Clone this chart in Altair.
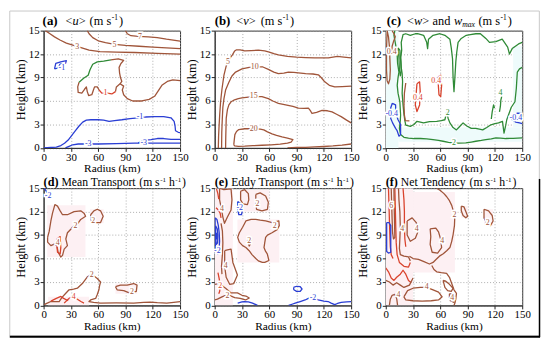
import altair as alt
import pandas as pd

SERIF = "'Liberation Serif', 'Times New Roman', 'DejaVu Serif', serif"
BROWN = "#a0553a"
RED = "#d9432d"
BLUE = "#2a3ed4"
GREEN = "#2f8a36"
PINK = "#fdf0f3"
CYAN = "#eefbfb"

R_TICKS = [0, 30, 60, 90, 120, 150]
Z_TICKS = [0, 3, 6, 9, 12, 15]

# ---------------- panel (a) <u> ----------------
A_U7 = [[90, 15], [92, 14.6], [96, 14.35], [104, 14.25], [115, 14.2], [125, 14.1], [135, 13.9], [150, 13.65]]
A_U5 = [[48, 15], [50, 14.6], [54, 14.1], [60, 13.7], [68, 13.45], [78, 13.25], [90, 13.1], [105, 13.0],
        [120, 12.9], [135, 12.8], [150, 12.7]]
A_U3 = [[2, 15], [7, 14.6], [12, 14.2], [18, 13.8], [25, 13.4], [33, 13.1], [42, 12.8], [50, 12.5], [62, 12.3],
        [80, 12.25], [100, 12.2], [125, 12.1], [150, 12.0]]
A_U1_BROWN = [[150, 8.6], [142, 8.7], [136, 8.5], [130, 8.0], [126, 7.3], [122, 6.6], [116, 6.2], [108, 6.0],
              [98, 6.0], [92, 6.3], [88, 6.8], [86.5, 7.4], [88, 7.9], [84, 8.2], [80, 7.8], [79, 7.2]]
A_U1_RED = [[79, 7.2], [75, 6.9], [70, 7.0], [64, 7.0], [61, 7.4]]
A_U1_BROWN2 = [[61, 7.4], [59, 7.8], [56, 7.8], [54.5, 7.3], [53, 6.8], [49.5, 6.7], [48, 7.2], [47, 7.8],
               [45, 7.5], [42, 7.0], [38, 7.1], [37.5, 7.8], [39, 8.4]]
A_U1_GREEN = [[39, 8.4], [44, 8.9], [49, 9.3], [51, 10.0], [54, 10.7], [59, 11.0], [66, 11.1], [74, 11.25]]
A_U1_BROWN3 = [[74, 11.25], [82, 11.4], [88, 11.2], [85, 10.8], [83, 10.3], [83.5, 9.6], [84.5, 9.0],
               [86, 8.5], [84, 8.2]]
A_UN1_SMALL = [[12, 10.1], [13.4, 10.8], [18.8, 11.0], [25, 11.15], [24, 10.8], [18, 10.7], [15.5, 10.2], [12, 10.1]]
A_UN1 = [[0, 0], [8, 0.05], [14, 0.1], [19, 0.3], [23, 0.6], [27, 1.0], [31, 1.6], [35, 2.2], [39, 2.8],
         [43, 3.3], [47, 3.55], [52, 3.6], [60, 3.6], [66, 3.55], [72, 3.4], [78, 3.5], [86, 3.6], [95, 3.75],
         [104, 3.85], [112, 3.95], [122, 4.0], [132, 4.0], [140, 3.85], [143.5, 3.4], [144.5, 2.8], [145, 2.2],
         [148, 2.0], [150, 1.95]]
A_UN3 = [[24, 0], [28, 0.2], [32, 0.4], [38, 0.5], [48, 0.5], [60, 0.5], [80, 0.55], [100, 0.6], [120, 0.6],
         [135, 0.6], [150, 0.6]]
A_UN3B = [[104, 0.65], [110, 0.95], [118, 1.05], [125, 1.2], [132, 1.2], [140, 1.1], [150, 1.1]]
A_LABELS = [[106, 14.2, "7", BROWN], [78, 13.2, "5", BROWN], [37, 12.95, "3", BROWN], [68, 7.0, "1", RED],
            [20, 10.2, "-1", BLUE], [106, 3.9, "-1", BLUE], [49, 0.5, "-3", BLUE], [110, 0.6, "-3", BLUE]]

# ---------------- panel (b) <v> ----------------
B_V5 = [[4, 0], [4.3, 1.5], [4.7, 2.5], [5.5, 4.2], [6.5, 5.9], [8, 7.5], [10.2, 9.3], [12.5, 10.4], [14.5, 11.0],
        [17, 11.5], [19.5, 11.9], [22, 12.4], [24, 12.55], [28, 12.55], [33, 12.4], [40, 12.45], [48, 12.5],
        [55, 12.4], [60, 12.25], [65, 12.05], [70, 11.9], [80, 11.7], [90, 11.6], [100, 11.55], [110, 11.5],
        [125, 11.5], [135, 11.7], [142, 11.6], [150, 11.5]]
B_V10 = [[7.6, 0], [7.8, 2], [8.4, 3.8], [9, 5.2], [10.2, 6.3], [12, 7.4], [15.6, 8.4], [19, 9.2], [23, 9.7],
         [30, 10.1], [38, 10.3], [46, 10.35], [53, 10.35], [59, 10.05], [65, 9.7], [70, 9.5], [76, 9.55],
         [81, 9.7], [87, 9.65], [92, 9.6], [100, 9.5], [108, 9.45], [114, 9.35], [117, 9.0], [121, 8.45],
         [126, 8.0], [132, 7.8], [140, 7.85], [150, 7.9]]
B_V15 = [[12, 0], [12.2, 1.5], [12.7, 3.8], [14, 4.9], [15.6, 5.5], [18, 5.9], [21, 6.1], [26, 6.3], [30, 6.4],
         [37, 6.5], [44, 6.55], [52, 6.55], [59, 6.3], [64, 6.0], [70, 5.7], [78, 5.5], [86, 5.3], [92, 5.1],
         [98, 5.05], [103, 5.1], [105, 4.8], [107, 4.4], [112, 4.55], [118, 4.8], [124, 4.75], [129, 4.6],
         [134, 4.3], [139, 4.0], [145, 3.55], [150, 3.2]]
B_V20 = [[21, 0.4], [21.5, 1.0], [22.2, 1.7], [24, 2.1], [26.5, 2.35], [33, 2.45], [42, 2.45], [50, 2.4],
         [54, 2.3], [58, 2.05], [63, 1.8], [68, 1.6], [74, 1.4], [80, 1.25], [86, 1.05], [84, 0.75], [80, 0.6],
         [72, 0.48], [62, 0.4], [52, 0.34], [42, 0.28], [33, 0.22], [26, 0.2], [22, 0.25], [21, 0.4]]
B_V5_LOW = [[80, 0], [90, 0.05], [100, 0.08], [110, 0.12], [120, 0.18], [130, 0.25], [140, 0.35], [150, 0.5]]
B_LABELS = [[14.5, 11.0, "5", BROWN], [44, 10.3, "10", BROWN], [43, 6.6, "15", BROWN], [43, 2.45, "20", BROWN]]

# ---------------- panel (c) <w> and wmax ----------------
C_OUTER = [[150, 1.27], [140, 1.22], [132, 1.2], [126, 1.25], [121, 1.27], [116, 1.15], [110, 1.05],
           [105, 0.95], [99, 0.85], [94, 0.75], [88, 0.63], [80, 0.6], [74, 0.63], [69, 0.72], [63, 0.85],
           [58, 0.95], [52, 1.05], [45, 1.15], [38, 1.2], [31, 1.2], [25, 1.25], [20, 1.35], [16.3, 1.7],
           [15, 2.5], [16, 3.5], [16.3, 4.2], [15.5, 5.9], [13.5, 7.0], [12.6, 8.0], [13.5, 9.0], [14.5, 9.7],
           [13, 10.8], [12.6, 11.8], [11, 13.1], [9, 14.4], [10, 15]]
C_BOX = [[150, 13.5], [146, 13.3], [139, 12.7], [136, 12.0], [134, 12.9], [128, 13.9], [121, 13.6], [114, 13.5],
         [110, 14.0], [104, 14.6], [99, 14.6], [93, 14.5], [88.5, 14.4], [83, 14.0], [79.5, 13.5], [78, 12.2],
         [77, 11.0], [76, 9.0], [75, 7.2], [74, 9.0], [73.4, 11.4], [72, 12.8], [70.5, 13.9], [65, 14.4],
         [59.6, 14.6], [52, 14.4], [47, 13.9], [46, 12.7], [45, 13.5], [41.6, 14.4], [35, 14.6], [32.5, 14.6],
         [27, 14.4], [22, 14.6], [19, 14.5], [17, 13.5], [17.5, 12.5], [16.5, 11.5], [17, 10.3], [18, 9.5],
         [18.5, 8.5], [18, 7.0], [19, 5.5], [20, 4.3], [21, 3.5], [22, 2.9], [27, 2.75], [31, 3.0], [34.3, 3.4],
         [38, 3.3], [41.6, 3.2], [48, 3.35], [56, 3.4], [61, 3.5], [65, 3.6], [67, 4.6], [68.5, 3.8], [70.5, 3.2],
         [74, 2.6], [77.7, 2.3], [81, 2.7], [85, 3.2], [89, 2.8], [94, 2.5], [99, 2.5], [106.6, 2.3], [111, 2.6],
         [115.6, 2.95], [120, 3.1], [124, 3.2], [128.3, 3.4], [130, 1.9], [131.9, 2.9], [133, 3.6], [135.5, 4.4],
         [138, 5.2], [142, 5.9], [143.5, 7.6], [144.6, 9.7], [147, 10.1], [150, 10.3]]
C_G_SMALL1 = [[125, 4.6], [126, 5.3], [126.5, 6.1], [127.5, 6.6]]
C_G_SMALL2 = [[116, 3.7], [117, 4.6], [118.5, 5.5], [119.5, 5.1]]
C_G_LOOP = [[13.5, 12.8], [14.5, 11.5], [15, 10.0], [16, 9.2], [17, 9.8], [16.5, 11.0], [15.5, 12.5], [13.5, 12.8]]
C_BR1 = [[1.5, 15], [3, 14.2], [4, 13.0], [4.5, 11.5], [5, 10.0], [4.5, 8.8], [3, 8.2], [1.5, 8.6], [0.8, 10],
         [0.8, 12.5], [1.5, 15]]
C_BR2 = [[7, 15], [9, 14.6], [10.5, 14.2], [8.5, 13.6], [7, 13.0], [6.5, 12]]
C_BR3 = [[22, 8.3], [20.5, 7.0], [20, 5.5], [20.5, 4.2], [21.5, 3.5], [26, 3.45]]
C_RED1 = [[34.3, 8.2], [37.2, 8.45], [37.9, 7.2], [37.2, 5.5], [34.3, 4.65], [32.5, 5.5], [33.6, 7.2], [34.3, 8.2]]
C_RED2 = [[57.8, 9.1], [60.4, 9.3], [61.4, 8.0], [60.4, 6.55], [58.5, 6.8], [57.8, 8.0], [57.8, 9.1]]
C_BLUE1 = [[7.2, 5.7], [10.8, 5.5], [11, 4.5], [13.5, 3.6], [16.3, 3.0], [16.3, 1.7], [14.5, 1.5], [12.5, 2.2],
           [10.8, 2.5], [7.5, 3.2], [5.4, 3.8], [5.4, 5.1], [7.2, 5.7]]
C_BLUE2 = [[150, 4.4], [145, 4.45], [141, 4.3], [138, 4.0], [139, 3.6], [143, 3.3], [147, 3.2], [150, 3.1]]
C_LABELS = [[75, 0.62, "2", GREEN], [68, 4.4, "2", GREEN], [126, 7.0, "4", GREEN], [6.5, 12.3, "0.4", BROWN],
            [35.3, 6.4, "0.4", RED], [55.5, 8.6, "0.4", RED], [6.5, 4.3, "-0.4", BLUE], [143, 3.8, "-0.4", BLUE]]

# ---------------- panel (d) mean transport ----------------
D_UP2 = [[4.4, 8.7], [6.2, 9.5], [8, 10.8], [9.8, 11.8], [12.4, 12.9], [15.3, 12.7], [18.2, 12.1], [20.8, 11.6],
         [26.2, 11.6], [33.5, 12.0], [40.8, 12.1], [44.4, 11.8], [46.2, 11.4], [40.8, 11.0], [37.1, 10.4],
         [31.7, 10.0], [29.9, 9.75], [26.2, 9.3], [24.4, 8.5], [26.2, 7.65], [22.6, 7.2], [20.8, 6.4],
         [18.9, 6.2], [16, 6.8], [14.6, 7.65], [11.7, 7.85], [8, 7.65], [4.4, 8.1], [4.4, 8.7]]
D_UP4 = [[14.6, 8.5], [18.2, 8.8], [18.9, 7.4], [18.2, 6.6], [15.3, 6.8], [14.6, 7.65], [14.6, 8.5]]
D_SMALL2 = [[51.7, 11.6], [55.3, 12.1], [59, 12.3], [62.6, 12.1], [65.5, 11.4], [62.6, 10.6], [55.3, 10.6],
            [51.7, 11.0], [51.7, 11.6]]
D_LOW2 = [[0.7, 0.1], [4, 0.3], [8, 0.5], [12, 0.5], [17.1, 0.5], [20, 1.0], [24.4, 1.55], [28, 2.0], [33, 2.1],
          [37.1, 2.2], [42.6, 2.8], [48.1, 3.65], [51.7, 3.9], [55, 3.8], [59, 3.45], [62.6, 3.0], [61.5, 2.5],
          [60.8, 2.0], [59, 1.4], [57.2, 0.9], [51.7, 0.7], [49.9, 0.5], [55, 0.4], [62.6, 0.3], [80, 0.32],
          [99, 0.3], [110, 0.38], [117.2, 0.42], [125, 0.35], [135.4, 0.3], [143, 0.4], [150, 0.5]]
D_LOW4 = [[22.6, 0.3], [26, 0.7], [28, 0.9], [31.7, 1.1], [34, 0.95], [37.1, 0.8], [41, 0.5], [44.4, 0.3]]
D_LOOP2 = [[79, 2.4], [84.5, 2.6], [91.8, 2.6], [99, 2.8], [102.7, 2.6], [101.9, 1.8], [95.4, 1.55], [88.1, 1.9],
           [80.8, 2.0], [79, 2.4]]
D_RED = [[8, 0.55], [14, 0.9], [19, 1.15], [22, 0.9], [27, 0.6]]
D_BLUE = [[0.7, 15], [3.6, 14.5], [6, 14.2], [8, 13.95], [5, 13.8]]
D_LABELS = [[35, 10.2, "2", BROWN], [15.5, 8.0, "4", BROWN], [54.5, 10.8, "2", BROWN], [53, 3.9, "2", BROWN],
            [33, 1.1, "4", RED], [97, 1.75, "2", BROWN], [5, 14.0, "-2", BLUE]]

# ---------------- panel (e) eddy transport ----------------
E_B1 = [[30.7, 10.0], [34.3, 10.8], [40, 11.0], [45.2, 11.0], [50, 10.9], [56, 10.8], [63.2, 10.6], [70.5, 10.8],
        [71, 10.2], [68.6, 9.7], [63, 9.3], [58, 9.0], [56, 8.7], [55, 8.0], [54.2, 7.4], [56, 6.9], [57.8, 6.6],
        [59.6, 5.75], [55, 5.5], [52.4, 5.5], [48, 5.7], [45.2, 6.0], [41, 6.5], [37.9, 7.0], [34.3, 7.4],
        [30.7, 7.65], [27.1, 8.1], [25.3, 8.7], [27.1, 9.3], [30.7, 10.0]]
E_B1_IN = [[36, 8.3], [39, 8.6], [40, 8.0], [38, 7.6], [36, 8.3]]
E_B2 = [[28.5, 14.6], [33, 14.8], [37, 14.3], [37.5, 13.5], [36, 12.9], [31, 13.0], [28.5, 13.5], [28.5, 14.6]]
E_B3 = [[45.2, 14.2], [50, 14.4], [56, 14.0], [59, 13.2], [58, 12.3], [52, 12.1], [46, 12.3], [45.2, 13.3],
        [45.2, 14.2]]
E_B4 = [[5.4, 15], [10, 14.8], [18, 14.9], [19, 13.5], [18, 12.2], [14, 11.3], [10.8, 10.5], [9, 11.3], [7, 12.6],
        [5.4, 13.5], [5.4, 15]]
E_B5 = [[11, 7.0], [14, 7.1], [18, 7.2], [20, 5.5], [25, 3.9], [21, 2.8], [16.5, 2.7], [12.6, 3.6], [11, 5.0],
        [11, 7.0]]
E_B6 = [[0, 2.7], [5, 2.8], [12, 2.2], [18, 1.6], [25, 1.6], [30, 1.3], [34.3, 1.2], [38, 0.95], [34, 0.7],
        [28, 0.9], [22, 1.0], [14, 1.4], [8, 1.1], [3, 0.8], [0, 0.7]]
E_B7 = [[7, 10.5], [8.5, 9.5], [9, 8.0], [8.5, 6.5], [7.5, 5.0], [8, 4.0]]
E_R1 = [[1.5, 12.5], [4, 12.2], [6, 11.8], [7, 11.2]]
E_R2 = [[3.6, 4.2], [5, 3.4], [6, 2.5], [5.5, 1.8], [4.5, 1.5]]
E_R3 = [[2, 14.9], [3.5, 14.3], [4.5, 13.6]]
E_U1 = [[0.5, 11.2], [2.5, 11.0], [4, 10.2], [5, 9.3], [5.4, 8.2], [4.8, 7.2], [3.5, 6.6], [1.5, 6.9], [0.7, 7.8],
        [0.5, 9.5], [0.5, 11.2]]
E_U2 = [[1, 10.2], [2.8, 9.8], [3.6, 9.0], [3.2, 8.0], [1.8, 7.8], [1, 8.8], [1, 10.2]]
E_U3 = [[1.8, 9.3], [2.8, 9.1], [2.6, 8.5], [1.8, 8.5], [1.8, 9.3]]
E_U4 = [[25.3, 13.3], [29, 13.0], [30.7, 12.3], [29.5, 11.6], [26.5, 11.6], [25.3, 12.3], [25.3, 13.3]]
E_U5 = [[25.3, 0.3], [30, 0.45], [32.5, 0.5], [37, 0.45], [41.6, 0.3], [47, 0]]
E_U6 = [[81.3, 0], [85, 0.15], [88.5, 0.3], [94, 0.5], [99.4, 0.7], [103, 0.9], [106.6, 1.1], [110, 0.9],
        [113.8, 0.7], [120, 0.55], [124.7, 0.5], [128, 0.3], [131.9, 0.1], [135, 0.25], [139.1, 0.4],
        [145, 0.45], [150, 0.5]]
E_U7 = [[86.7, 2.3], [90, 2.45], [94, 2.4], [96, 2.1], [94, 1.8], [90, 1.8], [87, 2.0], [86.7, 2.3]]
E_LABELS = [[66, 10.1, "2", BROWN], [38, 8.2, "2", BROWN], [47, 13.0, "2", BROWN], [8, 12.3, "4", BROWN],
            [12, 5.0, "4", BROWN], [14, 1.2, "2", BROWN], [6, 2.5, "2", RED], [3, 7.0, "-2", BLUE],
            [27.5, 12.4, "-2", BLUE], [108, 1.0, "-2", BLUE]]

# ---------------- panel (f) net tendency ----------------
F_BIG = [[56, 15], [60, 14.7], [64, 14.3], [67, 13.9], [70, 13.4], [72.5, 12.8], [74.5, 12.0], [75.8, 11.1],
         [75.5, 10.2], [74.1, 9.1], [72.5, 8.2], [70.5, 7.4], [67, 7.0], [63.2, 6.6], [59, 6.3], [55.5, 5.9],
         [52, 5.5], [48, 5.3], [42, 5.6], [36, 5.9], [30, 6.0], [26, 6.3]]
F_BIG2 = [[50.6, 5.1], [53, 4.6], [56, 4.3], [61, 4.2], [66.9, 4.1], [70, 3.6], [72.5, 2.8], [75, 2.0],
          [77.7, 1.55], [77, 0.8], [76, 0.3], [75, 0]]
F_LOOP_A = [[48.8, 9.8], [55, 9.9], [58, 9.4], [60.5, 8.4], [61.4, 7.4], [57, 6.7], [51, 6.8], [48.8, 7.8],
            [49.5, 8.8], [48.8, 9.8]]
F_LOOP_B = [[23.5, 10.8], [29, 11.2], [33.5, 10.6], [36, 9.6], [32.5, 8.6], [27, 8.2], [23.5, 9.0], [23.5, 10.8]]
F_R1 = [[3, 15], [3.5, 13], [4, 11], [4.5, 9], [5, 7.5], [6, 6.5], [8, 6.0]]
F_R2 = [[10, 15], [10.5, 12.5], [11, 10], [11.5, 8], [12.5, 6.5], [15, 5.5], [20, 5.0], [25, 4.9], [27, 5.5]]
F_B1 = [[6, 15], [6.5, 13], [7, 11], [7.5, 9.3], [8.5, 8.5], [10, 8.7], [9.6, 11], [9.2, 13], [9, 15]]
F_B2 = [[14, 15], [14.5, 13.5], [15.5, 12], [16, 10], [15.5, 8.5], [15, 7.3], [16, 6.5], [20, 6.3], [25, 6.2],
        [27, 5.7]]
F_B3 = [[19, 15], [20, 13.5], [20.5, 12], [20.5, 10], [21, 8.5], [22, 7.5]]
F_R3 = [[0, 4.8], [3, 4.3], [6, 3.5], [9, 3.2], [12, 3.6], [16, 4.0], [19, 4.5], [22, 4.0], [25, 3.2], [28, 2.9]]
F_B4 = [[0, 3.2], [4, 3.0], [8, 2.6], [12, 2.9], [16, 2.6], [20, 2.3], [26, 2.6], [30, 3.5]]
F_BLUE = [[1, 10.6], [3.5, 10.6], [5.5, 10.2], [5.5, 8.0], [5.5, 6.8], [3, 6.7], [1, 6.9], [1, 8.5], [1, 10.6]]
F_TR1 = [[83, 12.7], [86, 12.6], [88, 12.0], [90, 11.4], [88, 11.2], [85, 11.5], [83, 12.1], [83, 12.7]]
F_TR2 = [[108, 12.3], [113, 12.1], [117, 11.5], [118, 10.8], [115, 10.2], [111, 10.5], [108, 11.2], [108, 12.3]]
F_LOOP_C = [[63, 3.2], [66, 3.1], [70, 2.7], [74, 2.2], [72, 1.8], [68, 1.9], [65, 2.3], [63, 3.2]]
F_LOOP_D = [[70, 1.5], [74, 1.4], [76, 0.8], [75, 0.4], [71, 0.6], [70, 1.0], [70, 1.5]]
F_BOT4 = [[19.9, 1.1], [24, 1.9], [30, 2.2], [38, 2.3], [45, 2.3], [52, 2.0], [58, 1.7], [62, 1.1], [58, 0.7],
          [50, 0.6], [40, 0.55], [30, 0.6], [22, 0.7], [19.9, 1.1]]
F_BOTL = [[4, 0], [5, 0.8], [7, 1.3], [10, 1.4], [12, 0.9], [13, 0]]
F_LABELS = [[6, 12.7, "6", BROWN], [18, 9.8, "4", BROWN], [34, 9.8, "4", BROWN], [62, 8.2, "4", BROWN],
            [75.5, 11.5, "2", BROWN], [112, 10.5, "2", BROWN], [45, 2.3, "4", BROWN], [73, 1.0, "4", BROWN],
            [14, 1.3, "4", BROWN]]

# shaded background regions: r0, r1, z0, z1, colour
A_SHADE = []
B_SHADE = []
C_SHADE = [[0, 14, 0, 15, CYAN], [14, 150, 0.8, 2.6, CYAN], [140, 150, 2.6, 13, CYAN]]
D_SHADE = [[4, 46, 6.2, 12.8, PINK], [51, 66, 10.5, 12.3, PINK], [5, 50, 0, 1.1, PINK], [79, 103, 1.5, 2.8, PINK]]
E_SHADE = [[0, 20, 0, 15, PINK], [25, 71, 5.5, 11.0, PINK], [28, 60, 12, 14.8, PINK]]
F_SHADE = [[0, 30, 0, 15, PINK], [30, 76, 4.2, 14.5, PINK], [83, 90, 11.2, 12.7, PINK], [108, 118, 10.2, 12.3, PINK]]

TITLE_A = [("(a)", "b", -1), ("<", "n", 8), ("u", "i", 0), (">", "n", 0), ("(m s", "n", 4), ("-1", "sup", 0.5), (")", "n", 1)]
TITLE_B = [("(b)", "b", 0), ("<", "n", 6), ("v", "i", 0), (">", "n", 0), ("(m s", "n", 5), ("-1", "sup", 0.5), (")", "n", 1)]
TITLE_C = [("(c)", "b", 1), ("<", "n", 6), ("w", "i", 0), (">", "n", 0), ("and", "n", 3.5), ("w", "i", 3.5),
           ("max", "sub", 0), ("(m s", "n", 3.5), ("-1", "sup", 0.5), (")", "n", 1)]
TITLE_D = [("(d)", "b", 0), ("Mean Transport", "n", 3), ("(m s", "n", 3), ("-1", "sup", 0.5), ("h", "n", 3),
           ("-1", "sup", 0.5), (")", "n", 1)]
TITLE_E = [("(e)", "b", 0), ("Eddy Transport", "n", 3), ("(m s", "n", 3), ("-1", "sup", 0.5), ("h", "n", 3),
           ("-1", "sup", 0.5), (")", "n", 1)]
TITLE_F = [("(f)", "b", 0), ("Net Tendency", "n", 3), ("(m s", "n", 3), ("-1", "sup", 0.5), ("h", "n", 3),
           ("-1", "sup", 0.5), (")", "n", 1)]

# ---------------- helpers ----------------
W_REG = {' ': 250, '(': 333, ')': 333, '<': 564, '>': 564, '-': 333, '1': 500, 'a': 444, 'b': 500, 'c': 444,
         'd': 500, 'e': 444, 'f': 333, 'h': 500, 'm': 778, 'n': 500, 'o': 500, 'p': 500, 'r': 333, 's': 389,
         't': 278, 'u': 500, 'v': 500, 'w': 722, 'x': 500, 'y': 500, 'M': 889, 'T': 611, 'E': 611, 'N': 722,
         'i': 278, 'D': 722, 'g': 500}
W_IT = {'u': 500, 'v': 444, 'w': 667, 'm': 722, 'a': 500, 'x': 444}
W_BD = {'(': 333, ')': 333, 'a': 500, 'b': 556, 'c': 444, 'd': 556, 'e': 444, 'f': 333}

ONE = pd.DataFrame({"v": [0]})
W, H = 138, 118.6

SX = alt.Scale(domain=[0, 150], nice=False, zero=False)
SY = alt.Scale(domain=[0, 15], nice=False, zero=False)
AX = alt.Axis(values=R_TICKS, title="Radius (km)", labelFlush=False, titleFontSize=11.5, titlePadding=0.5,
              labelPadding=0)
AY = alt.Axis(values=Z_TICKS, title="Height (km)", labelFlush=False, titleFontSize=12.5, titlePadding=1,
              labelPadding=1)


def text_width(t, kind, fs):
    tot = 0
    for ch in t:
        if kind == "b":
            tot += W_BD.get(ch, W_REG.get(ch, 500))
        elif kind in ("i", "sub"):
            tot += W_IT.get(ch, W_REG.get(ch, 500))
        else:
            tot += W_REG.get(ch, 500)
    return tot * fs / 1000.0


def title_layers(pieces, y0, size):
    layers = []
    x = 0.0
    for t, kind, gap in pieces:
        x += gap
        fs, weight, style, dy = size, "normal", "normal", 0.0
        if kind == "b":
            weight = "bold"
            fs = size + 0.5
        elif kind == "i":
            style = "italic"
        elif kind == "sup":
            fs = size * 0.6
            dy = -size * 0.38
        elif kind == "sub":
            fs = size * 0.62
            dy = size * 0.22
            style = "italic"
        layers.append(
            alt.Chart(ONE).mark_text(text=t, align="left", baseline="alphabetic", font=SERIF, fontSize=fs,
                                     fontWeight=weight, fontStyle=style, color="black")
            .encode(x=alt.value(x), y=alt.value(y0 + dy))
        )
        x += text_width(t, kind, fs)
    return layers


def panel(lines, labels, shade, title, ty, tsize, extra=None):
    rows = []
    for i, (pts, col) in enumerate(lines):
        for k, (r, z) in enumerate(pts):
            rows.append({"r": r, "z": z, "id": i, "k": k, "col": col})
    ldf = pd.DataFrame(rows)
    layers = []
    if extra:
        layers += extra
    if shade:
        sdf = pd.DataFrame(shade, columns=["r0", "r1", "z0", "z1", "col"])
        layers.append(
            alt.Chart(sdf).mark_rect(clip=True).encode(
                x=alt.X("r0:Q", scale=SX, axis=AX), x2="r1:Q",
                y=alt.Y("z0:Q", scale=SY, axis=AY), y2="z1:Q",
                color=alt.Color("col:N", scale=None)))
    layers.append(
        alt.Chart(ldf).mark_line(clip=True, strokeWidth=1.3, strokeJoin="round").encode(
            x=alt.X("r:Q", scale=SX, axis=AX), y=alt.Y("z:Q", scale=SY, axis=AY),
            detail="id:N", order="k:Q", color=alt.Color("col:N", scale=None)))
    tdf = pd.DataFrame(labels, columns=["r", "z", "t", "col"])
    layers.append(
        alt.Chart(tdf).mark_text(font=SERIF, fontSize=8, color="white", stroke="white", strokeWidth=3).encode(
            x=alt.X("r:Q", scale=SX, axis=AX), y=alt.Y("z:Q", scale=SY, axis=AY), text="t:N"))
    layers.append(
        alt.Chart(tdf).mark_text(font=SERIF, fontSize=8).encode(
            x=alt.X("r:Q", scale=SX, axis=AX), y=alt.Y("z:Q", scale=SY, axis=AY), text="t:N",
            color=alt.Color("col:N", scale=None)))
    layers += title_layers(title, ty, tsize)
    return alt.layer(*layers).properties(width=W, height=H)


# outer frame of the figure (decoration attached to panel a)
FRAME = [
    alt.Chart(ONE).mark_rect(fillOpacity=0, stroke="#c8c8c8", strokeWidth=1).encode(
        x=alt.value(-34.2), x2=alt.value(501.3), y=alt.value(-19.8), y2=alt.value(308.7)),
    alt.Chart(ONE).mark_rule(color="black", strokeWidth=2).encode(
        x=alt.value(-34.2), x2=alt.value(502), y=alt.value(309.5)),
    alt.Chart(ONE).mark_rule(color="black", strokeWidth=1.5).encode(
        x=alt.value(501.5), y=alt.value(150), y2=alt.value(310)),
]

pa = panel([(A_U7, BROWN), (A_U5, BROWN), (A_U3, BROWN), (A_U1_BROWN, BROWN), (A_U1_RED, RED),
            (A_U1_BROWN2, BROWN), (A_U1_GREEN, GREEN), (A_U1_BROWN3, BROWN), (A_UN1_SMALL, BLUE),
            (A_UN1, BLUE), (A_UN3, BLUE), (A_UN3B, BLUE)], A_LABELS, A_SHADE, TITLE_A, -6, 12.5, FRAME)
pb = panel([(B_V5, BROWN), (B_V10, BROWN), (B_V15, BROWN), (B_V20, BROWN), (B_V5_LOW, BROWN)],
           B_LABELS, B_SHADE, TITLE_B, -6, 12.5)
pc = panel([(C_OUTER, GREEN), (C_BOX, GREEN), (C_G_SMALL1, GREEN), (C_G_SMALL2, GREEN), (C_G_LOOP, GREEN),
            (C_BR1, BROWN), (C_BR2, BROWN), (C_BR3, BROWN), (C_RED1, RED), (C_RED2, RED), (C_BLUE1, BLUE),
            (C_BLUE2, BLUE)], C_LABELS, C_SHADE, TITLE_C, -6, 12.5)
pd_ = panel([(D_UP2, BROWN), (D_UP4, RED), (D_SMALL2, BROWN), (D_LOW2, BROWN), (D_LOW4, RED), (D_LOOP2, BROWN),
             (D_RED, RED), (D_BLUE, BLUE)], D_LABELS, D_SHADE, TITLE_D, -2.0, 11.8)
pe = panel([(E_B1, BROWN), (E_B1_IN, BROWN), (E_B2, BROWN), (E_B3, BROWN), (E_B4, BROWN), (E_B5, BROWN),
            (E_B6, BROWN), (E_B7, BROWN), (E_R1, RED), (E_R2, RED), (E_R3, RED), (E_U1, BLUE), (E_U2, BLUE),
            (E_U3, BLUE), (E_U4, BLUE), (E_U5, BLUE), (E_U6, BLUE), (E_U7, BLUE)],
           E_LABELS, E_SHADE, TITLE_E, -2.0, 11.8)
pf = panel([(F_BIG, BROWN), (F_BIG2, BROWN), (F_LOOP_A, BROWN), (F_LOOP_B, BROWN), (F_R1, RED), (F_R2, RED),
            (F_B1, BROWN), (F_B2, BROWN), (F_B3, RED), (F_R3, RED), (F_B4, BROWN), (F_BLUE, BLUE),
            (F_TR1, BROWN), (F_TR2, BROWN), (F_LOOP_C, BROWN), (F_LOOP_D, BROWN), (F_BOT4, BROWN),
            (F_BOTL, BROWN)], F_LABELS, F_SHADE, TITLE_F, -2.0, 11.8)

chart = alt.concat(pa, pb, pc, pd_, pe, pf, columns=3,
                   spacing=alt.RowColnumber(row=40.3, column=35),
                   bounds="flush", padding=0).configure(
    font=SERIF
).configure_view(
    stroke="#333333", strokeWidth=1
).configure_axis(
    labelFont=SERIF, labelFontSize=11, labelColor="black",
    titleFont=SERIF, titleFontWeight="normal", titleColor="black",
    tickColor="#222222", tickSize=3.5, domainColor="#333333",
    gridColor="#9a9a9a", gridDash=[1, 2], gridWidth=0.8
)

chart.save("out.html", embed_options={"renderer": "svg", "actions": False})
